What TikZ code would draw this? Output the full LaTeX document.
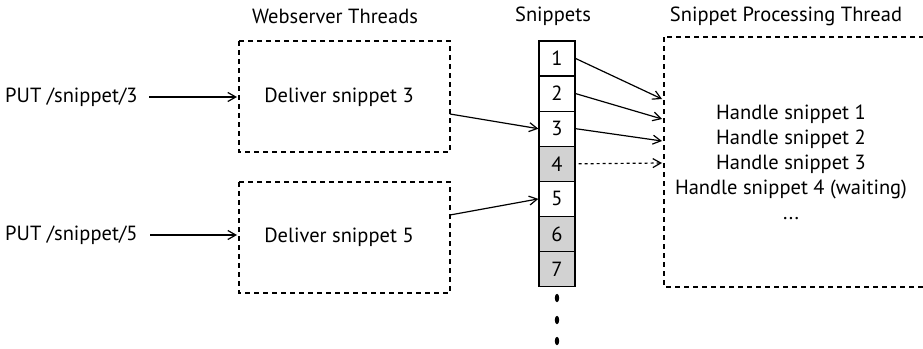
\documentclass[tikz,border=0pt]{standalone}
\usepackage{fontspec}
\setmainfont{PT Sans}
\usetikzlibrary{arrows.meta,calc}
\definecolor{pending}{RGB}{210,210,210}
\newcommand\labelfont{\fontsize{20.5}{25}\selectfont}
\tikzset{
  thread/.style={draw, dashed, dash pattern=on 5pt off 4pt, line width=1.2pt},
  cell/.style={draw, line width=1.3pt, minimum width=36pt, minimum height=35.1pt, inner sep=0pt, font=\labelfont},
  waiting/.style={cell, fill=pending},
  title/.style={font=\labelfont},
  txt/.style={font=\labelfont},
  flow/.style={-{Straight Barb[length=8pt,width=9pt,line width=1.2pt]}, line width=1.2pt},
}
\begin{document}
\begin{tikzpicture}[x=1pt,y=-1pt]
\useasboundingbox (0,0) rectangle (923,348);
\clip (0,0) rectangle (923,348);

% column titles
\node[title] (tw) at (335,16) {Webserver Threads};
\node[title] (ts) at (553,16) {Snippets};
\node[title] (tp) at (786,16) {Snippet Processing Thread};

% webserver thread boxes
\draw[thread] (239,41) rectangle (450,152);
\draw[thread] (239,182) rectangle (450,293);
\node[txt] (d3) at (339,97) {Deliver snippet 3};
\node[txt] (d5) at (339,237) {Deliver snippet 5};
\coordinate (w1in) at (237,97);
\coordinate (w2in) at (237,235);
\coordinate (w1out) at (450,114);
\coordinate (w2out) at (450,215);

% incoming requests
\node[txt, anchor=east] (r3) at (141,97) {PUT /snippet/3};
\node[txt, anchor=east] (r5) at (141,235) {PUT /snippet/5};
\draw[flow] (r3.east) ++(8,0) -- (w1in);
\draw[flow] (r5.east) ++(9,0) -- (w2in);

% snippet queue
\node[cell]    (c1) at (557,58.5)  {1};
\node[cell]    (c2) at (557,93.6)  {2};
\node[cell]    (c3) at (557,128.7) {3};
\node[waiting] (c4) at (557,163.8) {4};
\node[cell]    (c5) at (557,198.9) {5};
\node[waiting] (c6) at (557,234.0) {6};
\node[waiting] (c7) at (557,269.1) {7};
\foreach \yy in {298,320,341}
  \fill (557,\yy) ellipse (2.2 and 4.2);

% processing thread box
\draw[thread] (664,37) rectangle (940,287);
\node[txt, align=center] (h) at (791,162) {Handle snippet 1\\Handle snippet 2\\Handle snippet 3\\Handle snippet 4 (waiting)\\...};
\coordinate (p1) at (662,99);
\coordinate (p2) at (662,119);
\coordinate (p3) at (662,141);
\coordinate (p4) at (662,163);

% connectors
\draw[flow] (w1out) -- (c3.west);
\draw[flow] (w2out) -- (c5.west);
\draw[flow] (c1.east) -- (p1);
\draw[flow] (c2.east) -- (p2);
\draw[flow] (c3.east) -- (p3);
\draw[flow, dash pattern=on 3pt off 3pt] ($(c4.east)+(3,0)$) -- (p4);
\end{tikzpicture}
\end{document}
